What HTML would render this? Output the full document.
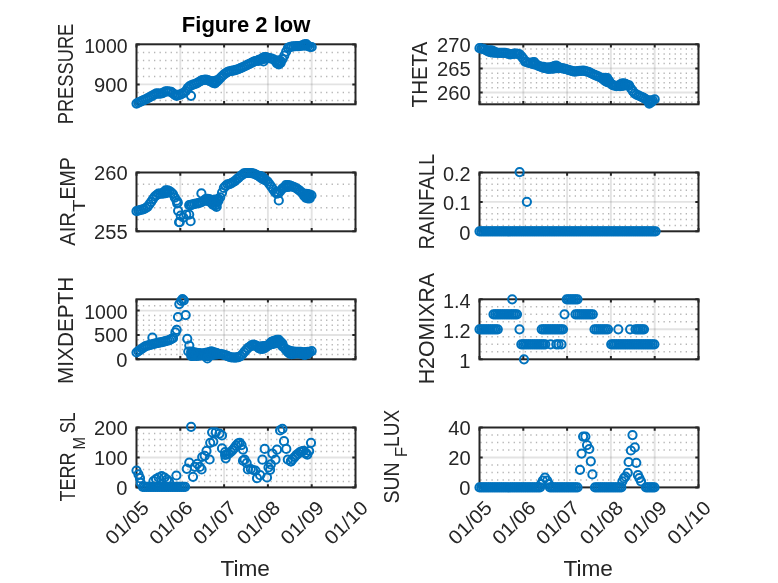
<!DOCTYPE html>
<html><head><meta charset="utf-8"><title>Figure 2 low</title>
<style>html,body{margin:0;padding:0;background:#fff;width:778px;height:583px;overflow:hidden}svg{display:block;will-change:transform}text{font-family:'Liberation Sans', Arial, sans-serif;fill:#262626}</style></head><body>
<svg width="778" height="583" viewBox="0 0 778 583">
<rect width="778" height="583" fill="#fff"/>
<g><line x1="136.5" y1="100.4" x2="355.5" y2="100.4" stroke="#262626" stroke-opacity="0.34" stroke-width="1.5" stroke-dasharray="1.3 4.25" stroke-dashoffset="-0.85"/><line x1="136.5" y1="92.4" x2="355.5" y2="92.4" stroke="#262626" stroke-opacity="0.34" stroke-width="1.5" stroke-dasharray="1.3 4.25" stroke-dashoffset="-0.85"/><line x1="136.5" y1="76.4" x2="355.5" y2="76.4" stroke="#262626" stroke-opacity="0.34" stroke-width="1.5" stroke-dasharray="1.3 4.25" stroke-dashoffset="-0.85"/><line x1="136.5" y1="68.4" x2="355.5" y2="68.4" stroke="#262626" stroke-opacity="0.34" stroke-width="1.5" stroke-dasharray="1.3 4.25" stroke-dashoffset="-0.85"/><line x1="136.5" y1="60.4" x2="355.5" y2="60.4" stroke="#262626" stroke-opacity="0.34" stroke-width="1.5" stroke-dasharray="1.3 4.25" stroke-dashoffset="-0.85"/><line x1="136.5" y1="52.4" x2="355.5" y2="52.4" stroke="#262626" stroke-opacity="0.34" stroke-width="1.5" stroke-dasharray="1.3 4.25" stroke-dashoffset="-0.85"/></g>
<g stroke="#262626" stroke-opacity="0.13" stroke-width="1.9"><line x1="180.3" y1="44.3" x2="180.3" y2="104.3"/><line x1="224.1" y1="44.3" x2="224.1" y2="104.3"/><line x1="267.9" y1="44.3" x2="267.9" y2="104.3"/><line x1="311.7" y1="44.3" x2="311.7" y2="104.3"/><line x1="136.5" y1="84.4" x2="355.5" y2="84.4"/></g>
<path d="M136.5 104.3V101.1M136.5 44.3V47.5M180.3 104.3V101.1M180.3 44.3V47.5M224.1 104.3V101.1M224.1 44.3V47.5M267.9 104.3V101.1M267.9 44.3V47.5M311.7 104.3V101.1M311.7 44.3V47.5M355.5 104.3V101.1M355.5 44.3V47.5M136.5 44.4H139.7M355.5 44.4H352.3M136.5 84.4H139.7M355.5 84.4H352.3" stroke="#262626" stroke-width="2" fill="none"/>
<rect x="136.5" y="44.3" width="219" height="60" fill="none" stroke="#262626" stroke-width="2"/>
<text x="127.6" y="52.7" font-size="19.6" text-anchor="end" textLength="43.34" lengthAdjust="spacingAndGlyphs">1000</text>
<text x="127.6" y="91.9" font-size="19.6" text-anchor="end" textLength="33.63" lengthAdjust="spacingAndGlyphs">900</text>
<g><line x1="479.5" y1="102.14" x2="698.5" y2="102.14" stroke="#262626" stroke-opacity="0.34" stroke-width="1.5" stroke-dasharray="1.3 4.25" stroke-dashoffset="-0.85"/><line x1="479.5" y1="97.32" x2="698.5" y2="97.32" stroke="#262626" stroke-opacity="0.34" stroke-width="1.5" stroke-dasharray="1.3 4.25" stroke-dashoffset="-0.85"/><line x1="479.5" y1="87.68" x2="698.5" y2="87.68" stroke="#262626" stroke-opacity="0.34" stroke-width="1.5" stroke-dasharray="1.3 4.25" stroke-dashoffset="-0.85"/><line x1="479.5" y1="82.86" x2="698.5" y2="82.86" stroke="#262626" stroke-opacity="0.34" stroke-width="1.5" stroke-dasharray="1.3 4.25" stroke-dashoffset="-0.85"/><line x1="479.5" y1="78.04" x2="698.5" y2="78.04" stroke="#262626" stroke-opacity="0.34" stroke-width="1.5" stroke-dasharray="1.3 4.25" stroke-dashoffset="-0.85"/><line x1="479.5" y1="73.22" x2="698.5" y2="73.22" stroke="#262626" stroke-opacity="0.34" stroke-width="1.5" stroke-dasharray="1.3 4.25" stroke-dashoffset="-0.85"/><line x1="479.5" y1="63.58" x2="698.5" y2="63.58" stroke="#262626" stroke-opacity="0.34" stroke-width="1.5" stroke-dasharray="1.3 4.25" stroke-dashoffset="-0.85"/><line x1="479.5" y1="58.76" x2="698.5" y2="58.76" stroke="#262626" stroke-opacity="0.34" stroke-width="1.5" stroke-dasharray="1.3 4.25" stroke-dashoffset="-0.85"/><line x1="479.5" y1="53.94" x2="698.5" y2="53.94" stroke="#262626" stroke-opacity="0.34" stroke-width="1.5" stroke-dasharray="1.3 4.25" stroke-dashoffset="-0.85"/><line x1="479.5" y1="49.12" x2="698.5" y2="49.12" stroke="#262626" stroke-opacity="0.34" stroke-width="1.5" stroke-dasharray="1.3 4.25" stroke-dashoffset="-0.85"/></g>
<g stroke="#262626" stroke-opacity="0.13" stroke-width="1.9"><line x1="523.3" y1="44.3" x2="523.3" y2="104.3"/><line x1="567.1" y1="44.3" x2="567.1" y2="104.3"/><line x1="610.9" y1="44.3" x2="610.9" y2="104.3"/><line x1="654.7" y1="44.3" x2="654.7" y2="104.3"/><line x1="479.5" y1="68.4" x2="698.5" y2="68.4"/><line x1="479.5" y1="92.5" x2="698.5" y2="92.5"/></g>
<path d="M479.5 104.3V101.1M479.5 44.3V47.5M523.3 104.3V101.1M523.3 44.3V47.5M567.1 104.3V101.1M567.1 44.3V47.5M610.9 104.3V101.1M610.9 44.3V47.5M654.7 104.3V101.1M654.7 44.3V47.5M698.5 104.3V101.1M698.5 44.3V47.5M479.5 44.3H482.7M698.5 44.3H695.3M479.5 68.4H482.7M698.5 68.4H695.3M479.5 92.5H482.7M698.5 92.5H695.3" stroke="#262626" stroke-width="2" fill="none"/>
<rect x="479.5" y="44.3" width="219" height="60" fill="none" stroke="#262626" stroke-width="2"/>
<text x="470.6" y="51.8" font-size="19.6" text-anchor="end" textLength="33.63" lengthAdjust="spacingAndGlyphs">270</text>
<text x="470.6" y="75.9" font-size="19.6" text-anchor="end" textLength="33.63" lengthAdjust="spacingAndGlyphs">265</text>
<text x="470.6" y="100" font-size="19.6" text-anchor="end" textLength="33.63" lengthAdjust="spacingAndGlyphs">260</text>
<g><line x1="136.5" y1="219.54" x2="355.5" y2="219.54" stroke="#262626" stroke-opacity="0.34" stroke-width="1.5" stroke-dasharray="1.3 4.25" stroke-dashoffset="-0.85"/><line x1="136.5" y1="207.78" x2="355.5" y2="207.78" stroke="#262626" stroke-opacity="0.34" stroke-width="1.5" stroke-dasharray="1.3 4.25" stroke-dashoffset="-0.85"/><line x1="136.5" y1="196.02" x2="355.5" y2="196.02" stroke="#262626" stroke-opacity="0.34" stroke-width="1.5" stroke-dasharray="1.3 4.25" stroke-dashoffset="-0.85"/><line x1="136.5" y1="184.26" x2="355.5" y2="184.26" stroke="#262626" stroke-opacity="0.34" stroke-width="1.5" stroke-dasharray="1.3 4.25" stroke-dashoffset="-0.85"/></g>
<g stroke="#262626" stroke-opacity="0.13" stroke-width="1.9"><line x1="180.3" y1="172.5" x2="180.3" y2="231.3"/><line x1="224.1" y1="172.5" x2="224.1" y2="231.3"/><line x1="267.9" y1="172.5" x2="267.9" y2="231.3"/><line x1="311.7" y1="172.5" x2="311.7" y2="231.3"/></g>
<path d="M136.5 231.3V228.1M136.5 172.5V175.7M180.3 231.3V228.1M180.3 172.5V175.7M224.1 231.3V228.1M224.1 172.5V175.7M267.9 231.3V228.1M267.9 172.5V175.7M311.7 231.3V228.1M311.7 172.5V175.7M355.5 231.3V228.1M355.5 172.5V175.7M136.5 172.5H139.7M355.5 172.5H352.3M136.5 231.3H139.7M355.5 231.3H352.3" stroke="#262626" stroke-width="2" fill="none"/>
<rect x="136.5" y="172.5" width="219" height="58.8" fill="none" stroke="#262626" stroke-width="2"/>
<text x="127.6" y="180" font-size="19.6" text-anchor="end" textLength="33.63" lengthAdjust="spacingAndGlyphs">260</text>
<text x="127.6" y="238.8" font-size="19.6" text-anchor="end" textLength="33.63" lengthAdjust="spacingAndGlyphs">255</text>
<g><line x1="479.5" y1="225.42" x2="698.5" y2="225.42" stroke="#262626" stroke-opacity="0.34" stroke-width="1.5" stroke-dasharray="1.3 4.25" stroke-dashoffset="-0.85"/><line x1="479.5" y1="219.54" x2="698.5" y2="219.54" stroke="#262626" stroke-opacity="0.34" stroke-width="1.5" stroke-dasharray="1.3 4.25" stroke-dashoffset="-0.85"/><line x1="479.5" y1="213.66" x2="698.5" y2="213.66" stroke="#262626" stroke-opacity="0.34" stroke-width="1.5" stroke-dasharray="1.3 4.25" stroke-dashoffset="-0.85"/><line x1="479.5" y1="207.78" x2="698.5" y2="207.78" stroke="#262626" stroke-opacity="0.34" stroke-width="1.5" stroke-dasharray="1.3 4.25" stroke-dashoffset="-0.85"/><line x1="479.5" y1="196.02" x2="698.5" y2="196.02" stroke="#262626" stroke-opacity="0.34" stroke-width="1.5" stroke-dasharray="1.3 4.25" stroke-dashoffset="-0.85"/><line x1="479.5" y1="190.14" x2="698.5" y2="190.14" stroke="#262626" stroke-opacity="0.34" stroke-width="1.5" stroke-dasharray="1.3 4.25" stroke-dashoffset="-0.85"/><line x1="479.5" y1="184.26" x2="698.5" y2="184.26" stroke="#262626" stroke-opacity="0.34" stroke-width="1.5" stroke-dasharray="1.3 4.25" stroke-dashoffset="-0.85"/><line x1="479.5" y1="178.38" x2="698.5" y2="178.38" stroke="#262626" stroke-opacity="0.34" stroke-width="1.5" stroke-dasharray="1.3 4.25" stroke-dashoffset="-0.85"/></g>
<g stroke="#262626" stroke-opacity="0.13" stroke-width="1.9"><line x1="523.3" y1="172.5" x2="523.3" y2="231.3"/><line x1="567.1" y1="172.5" x2="567.1" y2="231.3"/><line x1="610.9" y1="172.5" x2="610.9" y2="231.3"/><line x1="654.7" y1="172.5" x2="654.7" y2="231.3"/><line x1="479.5" y1="201.9" x2="698.5" y2="201.9"/></g>
<path d="M479.5 231.3V228.1M479.5 172.5V175.7M523.3 231.3V228.1M523.3 172.5V175.7M567.1 231.3V228.1M567.1 172.5V175.7M610.9 231.3V228.1M610.9 172.5V175.7M654.7 231.3V228.1M654.7 172.5V175.7M698.5 231.3V228.1M698.5 172.5V175.7M479.5 172.5H482.7M698.5 172.5H695.3M479.5 201.9H482.7M698.5 201.9H695.3M479.5 231.3H482.7M698.5 231.3H695.3" stroke="#262626" stroke-width="2" fill="none"/>
<rect x="479.5" y="172.5" width="219" height="58.8" fill="none" stroke="#262626" stroke-width="2"/>
<text x="470.6" y="180.7" font-size="19.6" text-anchor="end" textLength="27.68" lengthAdjust="spacingAndGlyphs">0.2</text>
<text x="470.6" y="210.1" font-size="19.6" text-anchor="end" textLength="27.68" lengthAdjust="spacingAndGlyphs">0.1</text>
<text x="470.6" y="239.5" font-size="19.6" text-anchor="end" textLength="11.21" lengthAdjust="spacingAndGlyphs">0</text>
<g><line x1="136.5" y1="354.43" x2="355.5" y2="354.43" stroke="#262626" stroke-opacity="0.34" stroke-width="1.5" stroke-dasharray="1.3 4.25" stroke-dashoffset="-0.85"/><line x1="136.5" y1="349.56" x2="355.5" y2="349.56" stroke="#262626" stroke-opacity="0.34" stroke-width="1.5" stroke-dasharray="1.3 4.25" stroke-dashoffset="-0.85"/><line x1="136.5" y1="344.69" x2="355.5" y2="344.69" stroke="#262626" stroke-opacity="0.34" stroke-width="1.5" stroke-dasharray="1.3 4.25" stroke-dashoffset="-0.85"/><line x1="136.5" y1="339.82" x2="355.5" y2="339.82" stroke="#262626" stroke-opacity="0.34" stroke-width="1.5" stroke-dasharray="1.3 4.25" stroke-dashoffset="-0.85"/><line x1="136.5" y1="330.08" x2="355.5" y2="330.08" stroke="#262626" stroke-opacity="0.34" stroke-width="1.5" stroke-dasharray="1.3 4.25" stroke-dashoffset="-0.85"/><line x1="136.5" y1="325.21" x2="355.5" y2="325.21" stroke="#262626" stroke-opacity="0.34" stroke-width="1.5" stroke-dasharray="1.3 4.25" stroke-dashoffset="-0.85"/><line x1="136.5" y1="320.34" x2="355.5" y2="320.34" stroke="#262626" stroke-opacity="0.34" stroke-width="1.5" stroke-dasharray="1.3 4.25" stroke-dashoffset="-0.85"/><line x1="136.5" y1="315.47" x2="355.5" y2="315.47" stroke="#262626" stroke-opacity="0.34" stroke-width="1.5" stroke-dasharray="1.3 4.25" stroke-dashoffset="-0.85"/><line x1="136.5" y1="305.73" x2="355.5" y2="305.73" stroke="#262626" stroke-opacity="0.34" stroke-width="1.5" stroke-dasharray="1.3 4.25" stroke-dashoffset="-0.85"/></g>
<g stroke="#262626" stroke-opacity="0.13" stroke-width="1.9"><line x1="180.3" y1="299.3" x2="180.3" y2="359.3"/><line x1="224.1" y1="299.3" x2="224.1" y2="359.3"/><line x1="267.9" y1="299.3" x2="267.9" y2="359.3"/><line x1="311.7" y1="299.3" x2="311.7" y2="359.3"/><line x1="136.5" y1="310.6" x2="355.5" y2="310.6"/><line x1="136.5" y1="334.95" x2="355.5" y2="334.95"/></g>
<path d="M136.5 359.3V356.1M136.5 299.3V302.5M180.3 359.3V356.1M180.3 299.3V302.5M224.1 359.3V356.1M224.1 299.3V302.5M267.9 359.3V356.1M267.9 299.3V302.5M311.7 359.3V356.1M311.7 299.3V302.5M355.5 359.3V356.1M355.5 299.3V302.5M136.5 310.6H139.7M355.5 310.6H352.3M136.5 334.95H139.7M355.5 334.95H352.3M136.5 359.3H139.7M355.5 359.3H352.3" stroke="#262626" stroke-width="2" fill="none"/>
<rect x="136.5" y="299.3" width="219" height="60" fill="none" stroke="#262626" stroke-width="2"/>
<text x="127.6" y="318.9" font-size="19.6" text-anchor="end" textLength="43.34" lengthAdjust="spacingAndGlyphs">1000</text>
<text x="127.6" y="342.45" font-size="19.6" text-anchor="end" textLength="33.63" lengthAdjust="spacingAndGlyphs">500</text>
<text x="127.6" y="366.8" font-size="19.6" text-anchor="end" textLength="11.21" lengthAdjust="spacingAndGlyphs">0</text>
<g><line x1="479.5" y1="351.8" x2="698.5" y2="351.8" stroke="#262626" stroke-opacity="0.34" stroke-width="1.5" stroke-dasharray="1.3 4.25" stroke-dashoffset="-0.85"/><line x1="479.5" y1="344.3" x2="698.5" y2="344.3" stroke="#262626" stroke-opacity="0.34" stroke-width="1.5" stroke-dasharray="1.3 4.25" stroke-dashoffset="-0.85"/><line x1="479.5" y1="336.8" x2="698.5" y2="336.8" stroke="#262626" stroke-opacity="0.34" stroke-width="1.5" stroke-dasharray="1.3 4.25" stroke-dashoffset="-0.85"/><line x1="479.5" y1="321.8" x2="698.5" y2="321.8" stroke="#262626" stroke-opacity="0.34" stroke-width="1.5" stroke-dasharray="1.3 4.25" stroke-dashoffset="-0.85"/><line x1="479.5" y1="314.3" x2="698.5" y2="314.3" stroke="#262626" stroke-opacity="0.34" stroke-width="1.5" stroke-dasharray="1.3 4.25" stroke-dashoffset="-0.85"/><line x1="479.5" y1="306.8" x2="698.5" y2="306.8" stroke="#262626" stroke-opacity="0.34" stroke-width="1.5" stroke-dasharray="1.3 4.25" stroke-dashoffset="-0.85"/></g>
<g stroke="#262626" stroke-opacity="0.13" stroke-width="1.9"><line x1="523.3" y1="299.3" x2="523.3" y2="359.3"/><line x1="567.1" y1="299.3" x2="567.1" y2="359.3"/><line x1="610.9" y1="299.3" x2="610.9" y2="359.3"/><line x1="654.7" y1="299.3" x2="654.7" y2="359.3"/><line x1="479.5" y1="329.3" x2="698.5" y2="329.3"/></g>
<path d="M479.5 359.3V356.1M479.5 299.3V302.5M523.3 359.3V356.1M523.3 299.3V302.5M567.1 359.3V356.1M567.1 299.3V302.5M610.9 359.3V356.1M610.9 299.3V302.5M654.7 359.3V356.1M654.7 299.3V302.5M698.5 359.3V356.1M698.5 299.3V302.5M479.5 299.3H482.7M698.5 299.3H695.3M479.5 329.3H482.7M698.5 329.3H695.3M479.5 359.3H482.7M698.5 359.3H695.3" stroke="#262626" stroke-width="2" fill="none"/>
<rect x="479.5" y="299.3" width="219" height="60" fill="none" stroke="#262626" stroke-width="2"/>
<text x="470.6" y="307.8" font-size="19.6" text-anchor="end" textLength="27.68" lengthAdjust="spacingAndGlyphs">1.4</text>
<text x="470.6" y="337.8" font-size="19.6" text-anchor="end" textLength="27.68" lengthAdjust="spacingAndGlyphs">1.2</text>
<text x="470.6" y="367.8" font-size="19.6" text-anchor="end" textLength="11.21" lengthAdjust="spacingAndGlyphs">1</text>
<g><line x1="136.5" y1="481.41" x2="355.5" y2="481.41" stroke="#262626" stroke-opacity="0.34" stroke-width="1.5" stroke-dasharray="1.3 4.25" stroke-dashoffset="-0.85"/><line x1="136.5" y1="475.42" x2="355.5" y2="475.42" stroke="#262626" stroke-opacity="0.34" stroke-width="1.5" stroke-dasharray="1.3 4.25" stroke-dashoffset="-0.85"/><line x1="136.5" y1="469.43" x2="355.5" y2="469.43" stroke="#262626" stroke-opacity="0.34" stroke-width="1.5" stroke-dasharray="1.3 4.25" stroke-dashoffset="-0.85"/><line x1="136.5" y1="463.44" x2="355.5" y2="463.44" stroke="#262626" stroke-opacity="0.34" stroke-width="1.5" stroke-dasharray="1.3 4.25" stroke-dashoffset="-0.85"/><line x1="136.5" y1="451.46" x2="355.5" y2="451.46" stroke="#262626" stroke-opacity="0.34" stroke-width="1.5" stroke-dasharray="1.3 4.25" stroke-dashoffset="-0.85"/><line x1="136.5" y1="445.47" x2="355.5" y2="445.47" stroke="#262626" stroke-opacity="0.34" stroke-width="1.5" stroke-dasharray="1.3 4.25" stroke-dashoffset="-0.85"/><line x1="136.5" y1="439.48" x2="355.5" y2="439.48" stroke="#262626" stroke-opacity="0.34" stroke-width="1.5" stroke-dasharray="1.3 4.25" stroke-dashoffset="-0.85"/><line x1="136.5" y1="433.49" x2="355.5" y2="433.49" stroke="#262626" stroke-opacity="0.34" stroke-width="1.5" stroke-dasharray="1.3 4.25" stroke-dashoffset="-0.85"/></g>
<g stroke="#262626" stroke-opacity="0.13" stroke-width="1.9"><line x1="180.3" y1="427.5" x2="180.3" y2="487.4"/><line x1="224.1" y1="427.5" x2="224.1" y2="487.4"/><line x1="267.9" y1="427.5" x2="267.9" y2="487.4"/><line x1="311.7" y1="427.5" x2="311.7" y2="487.4"/><line x1="136.5" y1="457.45" x2="355.5" y2="457.45"/></g>
<path d="M136.5 487.4V484.2M136.5 427.5V430.7M180.3 487.4V484.2M180.3 427.5V430.7M224.1 487.4V484.2M224.1 427.5V430.7M267.9 487.4V484.2M267.9 427.5V430.7M311.7 487.4V484.2M311.7 427.5V430.7M355.5 487.4V484.2M355.5 427.5V430.7M136.5 427.5H139.7M355.5 427.5H352.3M136.5 457.45H139.7M355.5 457.45H352.3M136.5 487.4H139.7M355.5 487.4H352.3" stroke="#262626" stroke-width="2" fill="none"/>
<rect x="136.5" y="427.5" width="219" height="59.9" fill="none" stroke="#262626" stroke-width="2"/>
<text x="127.6" y="435" font-size="19.6" text-anchor="end" textLength="33.63" lengthAdjust="spacingAndGlyphs">200</text>
<text x="127.6" y="464.95" font-size="19.6" text-anchor="end" textLength="33.63" lengthAdjust="spacingAndGlyphs">100</text>
<text x="127.6" y="494.9" font-size="19.6" text-anchor="end" textLength="11.21" lengthAdjust="spacingAndGlyphs">0</text>
<g><line x1="479.5" y1="479.91" x2="698.5" y2="479.91" stroke="#262626" stroke-opacity="0.34" stroke-width="1.5" stroke-dasharray="1.3 4.25" stroke-dashoffset="-0.85"/><line x1="479.5" y1="472.42" x2="698.5" y2="472.42" stroke="#262626" stroke-opacity="0.34" stroke-width="1.5" stroke-dasharray="1.3 4.25" stroke-dashoffset="-0.85"/><line x1="479.5" y1="464.94" x2="698.5" y2="464.94" stroke="#262626" stroke-opacity="0.34" stroke-width="1.5" stroke-dasharray="1.3 4.25" stroke-dashoffset="-0.85"/><line x1="479.5" y1="449.96" x2="698.5" y2="449.96" stroke="#262626" stroke-opacity="0.34" stroke-width="1.5" stroke-dasharray="1.3 4.25" stroke-dashoffset="-0.85"/><line x1="479.5" y1="442.48" x2="698.5" y2="442.48" stroke="#262626" stroke-opacity="0.34" stroke-width="1.5" stroke-dasharray="1.3 4.25" stroke-dashoffset="-0.85"/><line x1="479.5" y1="434.99" x2="698.5" y2="434.99" stroke="#262626" stroke-opacity="0.34" stroke-width="1.5" stroke-dasharray="1.3 4.25" stroke-dashoffset="-0.85"/></g>
<g stroke="#262626" stroke-opacity="0.13" stroke-width="1.9"><line x1="523.3" y1="427.5" x2="523.3" y2="487.4"/><line x1="567.1" y1="427.5" x2="567.1" y2="487.4"/><line x1="610.9" y1="427.5" x2="610.9" y2="487.4"/><line x1="654.7" y1="427.5" x2="654.7" y2="487.4"/><line x1="479.5" y1="457.45" x2="698.5" y2="457.45"/></g>
<path d="M479.5 487.4V484.2M479.5 427.5V430.7M523.3 487.4V484.2M523.3 427.5V430.7M567.1 487.4V484.2M567.1 427.5V430.7M610.9 487.4V484.2M610.9 427.5V430.7M654.7 487.4V484.2M654.7 427.5V430.7M698.5 487.4V484.2M698.5 427.5V430.7M479.5 427.5H482.7M698.5 427.5H695.3M479.5 457.45H482.7M698.5 457.45H695.3M479.5 487.4H482.7M698.5 487.4H695.3" stroke="#262626" stroke-width="2" fill="none"/>
<rect x="479.5" y="427.5" width="219" height="59.9" fill="none" stroke="#262626" stroke-width="2"/>
<text x="470.6" y="435" font-size="19.6" text-anchor="end" textLength="22.42" lengthAdjust="spacingAndGlyphs">40</text>
<text x="470.6" y="464.95" font-size="19.6" text-anchor="end" textLength="22.42" lengthAdjust="spacingAndGlyphs">20</text>
<text x="470.6" y="494.9" font-size="19.6" text-anchor="end" textLength="11.21" lengthAdjust="spacingAndGlyphs">0</text>
<g fill="none" stroke="#0072BD" stroke-width="2"><circle cx="136.5" cy="103.6" r="4.1"/><circle cx="138.32" cy="102.7" r="4.1"/><circle cx="140.15" cy="101.81" r="4.1"/><circle cx="141.97" cy="100.91" r="4.1"/><circle cx="143.8" cy="100.11" r="4.1"/><circle cx="145.62" cy="99.31" r="4.1"/><circle cx="147.45" cy="98.43" r="4.1"/><circle cx="149.28" cy="97.41" r="4.1"/><circle cx="151.1" cy="96.38" r="4.1"/><circle cx="152.93" cy="95.35" r="4.1"/><circle cx="154.75" cy="94.33" r="4.1"/><circle cx="156.57" cy="93.41" r="4.1"/><circle cx="158.4" cy="93.53" r="4.1"/><circle cx="160.22" cy="93.64" r="4.1"/><circle cx="162.05" cy="93.27" r="4.1"/><circle cx="163.88" cy="92.36" r="4.1"/><circle cx="165.7" cy="91.45" r="4.1"/><circle cx="167.53" cy="91.4" r="4.1"/><circle cx="169.35" cy="91.51" r="4.1"/><circle cx="171.18" cy="91.9" r="4.1"/><circle cx="173" cy="93.39" r="4.1"/><circle cx="174.82" cy="94.87" r="4.1"/><circle cx="176.65" cy="94.8" r="4.1"/><circle cx="176.65" cy="95.81" r="4.1"/><circle cx="178.47" cy="94.96" r="4.1"/><circle cx="180.3" cy="94.62" r="4.1"/><circle cx="182.12" cy="93.7" r="4.1"/><circle cx="183.95" cy="92.75" r="4.1"/><circle cx="185.78" cy="91.02" r="4.1"/><circle cx="187.6" cy="88.23" r="4.1"/><circle cx="189.43" cy="86.31" r="4.1"/><circle cx="191.25" cy="85.45" r="4.1"/><circle cx="193.07" cy="84.67" r="4.1"/><circle cx="194.9" cy="83.99" r="4.1"/><circle cx="196.72" cy="83.3" r="4.1"/><circle cx="198.55" cy="82.23" r="4.1"/><circle cx="200.38" cy="81.09" r="4.1"/><circle cx="202.2" cy="80.15" r="4.1"/><circle cx="204.02" cy="79.92" r="4.1"/><circle cx="205.85" cy="79.69" r="4.1"/><circle cx="207.68" cy="80.07" r="4.1"/><circle cx="209.5" cy="80.87" r="4.1"/><circle cx="211.32" cy="81.67" r="4.1"/><circle cx="213.15" cy="81.12" r="4.1"/><circle cx="213.15" cy="82.86" r="4.1"/><circle cx="214.97" cy="81.25" r="4.1"/><circle cx="214.97" cy="83.34" r="4.1"/><circle cx="216.8" cy="80.46" r="4.1"/><circle cx="216.8" cy="81.74" r="4.1"/><circle cx="218.62" cy="79.87" r="4.1"/><circle cx="220.45" cy="77.93" r="4.1"/><circle cx="222.27" cy="76" r="4.1"/><circle cx="224.1" cy="74.32" r="4.1"/><circle cx="225.93" cy="73.06" r="4.1"/><circle cx="227.75" cy="71.81" r="4.1"/><circle cx="229.57" cy="71.24" r="4.1"/><circle cx="231.4" cy="70.9" r="4.1"/><circle cx="233.22" cy="70.54" r="4.1"/><circle cx="235.05" cy="70.09" r="4.1"/><circle cx="236.88" cy="69.63" r="4.1"/><circle cx="238.7" cy="69.01" r="4.1"/><circle cx="240.52" cy="68.21" r="4.1"/><circle cx="242.35" cy="67.41" r="4.1"/><circle cx="244.18" cy="66.51" r="4.1"/><circle cx="246" cy="65.6" r="4.1"/><circle cx="247.82" cy="64.69" r="4.1"/><circle cx="249.65" cy="63.78" r="4.1"/><circle cx="251.47" cy="62.86" r="4.1"/><circle cx="253.3" cy="61.95" r="4.1"/><circle cx="255.12" cy="61.22" r="4.1"/><circle cx="256.95" cy="60.76" r="4.1"/><circle cx="258.77" cy="59.75" r="4.1"/><circle cx="258.77" cy="60.86" r="4.1"/><circle cx="260.6" cy="59.53" r="4.1"/><circle cx="262.43" cy="58.07" r="4.1"/><circle cx="262.43" cy="59.24" r="4.1"/><circle cx="264.25" cy="57.06" r="4.1"/><circle cx="264.25" cy="58.73" r="4.1"/><circle cx="266.07" cy="57.17" r="4.1"/><circle cx="266.07" cy="58.55" r="4.1"/><circle cx="267.9" cy="57.82" r="4.1"/><circle cx="269.73" cy="58.09" r="4.1"/><circle cx="271.55" cy="58.66" r="4.1"/><circle cx="273.38" cy="59.23" r="4.1"/><circle cx="275.2" cy="60.77" r="4.1"/><circle cx="277.02" cy="61.43" r="4.1"/><circle cx="277.02" cy="63.45" r="4.1"/><circle cx="278.85" cy="60.34" r="4.1"/><circle cx="278.85" cy="62.32" r="4.1"/><circle cx="278.85" cy="64.31" r="4.1"/><circle cx="280.67" cy="61.19" r="4.1"/><circle cx="280.67" cy="62.85" r="4.1"/><circle cx="282.5" cy="59.02" r="4.1"/><circle cx="284.32" cy="55.55" r="4.1"/><circle cx="286.15" cy="51.57" r="4.1"/><circle cx="287.98" cy="47.85" r="4.1"/><circle cx="289.8" cy="47.06" r="4.1"/><circle cx="291.62" cy="46.64" r="4.1"/><circle cx="293.45" cy="46.34" r="4.1"/><circle cx="295.27" cy="46.26" r="4.1"/><circle cx="297.1" cy="46.21" r="4.1"/><circle cx="298.92" cy="46.16" r="4.1"/><circle cx="300.75" cy="45.81" r="4.1"/><circle cx="302.57" cy="45.41" r="4.1"/><circle cx="304.4" cy="44.44" r="4.1"/><circle cx="304.4" cy="45.67" r="4.1"/><circle cx="306.23" cy="44.22" r="4.1"/><circle cx="306.23" cy="45.43" r="4.1"/><circle cx="308.05" cy="45.89" r="4.1"/><circle cx="309.88" cy="46.96" r="4.1"/><circle cx="311.7" cy="47" r="4.1"/><circle cx="191" cy="95.8" r="4.1"/><circle cx="263.5" cy="61.5" r="4.1"/></g>
<g fill="none" stroke="#0072BD" stroke-width="2"><circle cx="479.5" cy="48.2" r="4.1"/><circle cx="481.32" cy="48.56" r="4.1"/><circle cx="483.15" cy="48.91" r="4.1"/><circle cx="484.98" cy="49.69" r="4.1"/><circle cx="486.8" cy="50.6" r="4.1"/><circle cx="488.62" cy="50.53" r="4.1"/><circle cx="488.62" cy="51.59" r="4.1"/><circle cx="490.45" cy="50.47" r="4.1"/><circle cx="490.45" cy="52.13" r="4.1"/><circle cx="492.27" cy="50.64" r="4.1"/><circle cx="492.27" cy="52.52" r="4.1"/><circle cx="494.1" cy="51.48" r="4.1"/><circle cx="494.1" cy="52.72" r="4.1"/><circle cx="495.93" cy="52.63" r="4.1"/><circle cx="497.75" cy="52.85" r="4.1"/><circle cx="499.57" cy="52.85" r="4.1"/><circle cx="501.4" cy="52.85" r="4.1"/><circle cx="503.23" cy="52.91" r="4.1"/><circle cx="505.05" cy="52.97" r="4.1"/><circle cx="506.88" cy="53.29" r="4.1"/><circle cx="508.7" cy="53.83" r="4.1"/><circle cx="510.52" cy="54.38" r="4.1"/><circle cx="512.35" cy="54.02" r="4.1"/><circle cx="514.17" cy="53.62" r="4.1"/><circle cx="516" cy="53.57" r="4.1"/><circle cx="517.83" cy="53.97" r="4.1"/><circle cx="519.65" cy="54.37" r="4.1"/><circle cx="521.48" cy="56.37" r="4.1"/><circle cx="523.3" cy="58.72" r="4.1"/><circle cx="525.12" cy="61.59" r="4.1"/><circle cx="526.95" cy="62.21" r="4.1"/><circle cx="528.77" cy="62.82" r="4.1"/><circle cx="530.6" cy="63.11" r="4.1"/><circle cx="532.42" cy="62.32" r="4.1"/><circle cx="532.42" cy="63.94" r="4.1"/><circle cx="534.25" cy="61.99" r="4.1"/><circle cx="534.25" cy="64.31" r="4.1"/><circle cx="536.08" cy="64.33" r="4.1"/><circle cx="537.9" cy="65.54" r="4.1"/><circle cx="539.73" cy="66.41" r="4.1"/><circle cx="541.55" cy="66.86" r="4.1"/><circle cx="543.38" cy="66.81" r="4.1"/><circle cx="543.38" cy="67.83" r="4.1"/><circle cx="545.2" cy="67.7" r="4.1"/><circle cx="547.02" cy="67.58" r="4.1"/><circle cx="547.02" cy="68.58" r="4.1"/><circle cx="548.85" cy="67.62" r="4.1"/><circle cx="548.85" cy="68.8" r="4.1"/><circle cx="550.67" cy="67.24" r="4.1"/><circle cx="550.67" cy="68.75" r="4.1"/><circle cx="552.5" cy="66.88" r="4.1"/><circle cx="552.5" cy="68.69" r="4.1"/><circle cx="554.33" cy="66.17" r="4.1"/><circle cx="554.33" cy="68.32" r="4.1"/><circle cx="556.15" cy="65.64" r="4.1"/><circle cx="556.15" cy="68.03" r="4.1"/><circle cx="557.98" cy="66.49" r="4.1"/><circle cx="557.98" cy="68.08" r="4.1"/><circle cx="559.8" cy="67.73" r="4.1"/><circle cx="561.62" cy="68.14" r="4.1"/><circle cx="563.45" cy="68.54" r="4.1"/><circle cx="565.27" cy="68.95" r="4.1"/><circle cx="567.1" cy="69.49" r="4.1"/><circle cx="568.92" cy="70.02" r="4.1"/><circle cx="570.75" cy="70.56" r="4.1"/><circle cx="572.58" cy="71.09" r="4.1"/><circle cx="574.4" cy="71.59" r="4.1"/><circle cx="576.23" cy="71.35" r="4.1"/><circle cx="578.05" cy="71.12" r="4.1"/><circle cx="579.88" cy="70.93" r="4.1"/><circle cx="581.7" cy="70.79" r="4.1"/><circle cx="583.52" cy="70.66" r="4.1"/><circle cx="585.35" cy="71.16" r="4.1"/><circle cx="587.17" cy="71.68" r="4.1"/><circle cx="589" cy="72.21" r="4.1"/><circle cx="590.83" cy="73.08" r="4.1"/><circle cx="592.65" cy="74.01" r="4.1"/><circle cx="594.48" cy="74.89" r="4.1"/><circle cx="596.3" cy="75.67" r="4.1"/><circle cx="598.12" cy="76.44" r="4.1"/><circle cx="599.95" cy="77.26" r="4.1"/><circle cx="601.77" cy="78.1" r="4.1"/><circle cx="603.6" cy="78.08" r="4.1"/><circle cx="603.6" cy="79.65" r="4.1"/><circle cx="605.42" cy="77.76" r="4.1"/><circle cx="605.42" cy="79.47" r="4.1"/><circle cx="605.42" cy="81.17" r="4.1"/><circle cx="607.25" cy="78.06" r="4.1"/><circle cx="607.25" cy="80.07" r="4.1"/><circle cx="607.25" cy="82.08" r="4.1"/><circle cx="609.08" cy="80.92" r="4.1"/><circle cx="609.08" cy="82.27" r="4.1"/><circle cx="610.9" cy="83.52" r="4.1"/><circle cx="612.73" cy="85.18" r="4.1"/><circle cx="614.55" cy="85.61" r="4.1"/><circle cx="616.38" cy="86.05" r="4.1"/><circle cx="618.2" cy="85.85" r="4.1"/><circle cx="620.02" cy="84.58" r="4.1"/><circle cx="620.02" cy="86.05" r="4.1"/><circle cx="621.85" cy="83.71" r="4.1"/><circle cx="621.85" cy="85.89" r="4.1"/><circle cx="623.67" cy="83.34" r="4.1"/><circle cx="623.67" cy="85.53" r="4.1"/><circle cx="625.5" cy="83.82" r="4.1"/><circle cx="625.5" cy="85.12" r="4.1"/><circle cx="627.33" cy="84.92" r="4.1"/><circle cx="629.15" cy="85.36" r="4.1"/><circle cx="630.98" cy="88.5" r="4.1"/><circle cx="632.8" cy="91.1" r="4.1"/><circle cx="634.62" cy="93.31" r="4.1"/><circle cx="636.45" cy="94.7" r="4.1"/><circle cx="638.27" cy="95.47" r="4.1"/><circle cx="640.1" cy="96.25" r="4.1"/><circle cx="641.92" cy="97.08" r="4.1"/><circle cx="643.75" cy="97.92" r="4.1"/><circle cx="645.58" cy="99.07" r="4.1"/><circle cx="647.4" cy="100.58" r="4.1"/><circle cx="649.23" cy="100.58" r="4.1"/><circle cx="649.23" cy="102.09" r="4.1"/><circle cx="649.23" cy="103.6" r="4.1"/><circle cx="651.05" cy="100.26" r="4.1"/><circle cx="651.05" cy="102.45" r="4.1"/><circle cx="652.88" cy="100.52" r="4.1"/><circle cx="654.7" cy="99.25" r="4.1"/></g>
<g fill="none" stroke="#0072BD" stroke-width="2"><circle cx="136.5" cy="211.15" r="4.1"/><circle cx="138.32" cy="210.52" r="4.1"/><circle cx="140.15" cy="210" r="4.1"/><circle cx="141.97" cy="209.64" r="4.1"/><circle cx="143.8" cy="209.11" r="4.1"/><circle cx="145.62" cy="208.22" r="4.1"/><circle cx="147.45" cy="206.93" r="4.1"/><circle cx="149.28" cy="204.44" r="4.1"/><circle cx="151.1" cy="201.89" r="4.1"/><circle cx="152.93" cy="199.11" r="4.1"/><circle cx="154.75" cy="196.5" r="4.1"/><circle cx="156.57" cy="195.03" r="4.1"/><circle cx="158.4" cy="193.65" r="4.1"/><circle cx="160.22" cy="193.65" r="4.1"/><circle cx="162.05" cy="193.65" r="4.1"/><circle cx="163.88" cy="192.11" r="4.1"/><circle cx="163.88" cy="193.37" r="4.1"/><circle cx="165.7" cy="190.4" r="4.1"/><circle cx="165.7" cy="193.2" r="4.1"/><circle cx="167.53" cy="190.28" r="4.1"/><circle cx="167.53" cy="192.58" r="4.1"/><circle cx="169.35" cy="191.1" r="4.1"/><circle cx="171.18" cy="192.42" r="4.1"/><circle cx="173" cy="194" r="4.1"/><circle cx="174.82" cy="197.58" r="4.1"/><circle cx="176.65" cy="200.7" r="4.1"/><circle cx="189.2" cy="205.2" r="4.1"/><circle cx="191.02" cy="204.75" r="4.1"/><circle cx="192.85" cy="204.31" r="4.1"/><circle cx="194.67" cy="203.89" r="4.1"/><circle cx="196.5" cy="203.52" r="4.1"/><circle cx="198.32" cy="203.11" r="4.1"/><circle cx="200.15" cy="202.63" r="4.1"/><circle cx="201.97" cy="201.88" r="4.1"/><circle cx="203.8" cy="200.56" r="4.1"/><circle cx="205.62" cy="199.08" r="4.1"/><circle cx="205.62" cy="200.12" r="4.1"/><circle cx="207.45" cy="198.79" r="4.1"/><circle cx="207.45" cy="200.84" r="4.1"/><circle cx="209.27" cy="199.12" r="4.1"/><circle cx="209.27" cy="201.27" r="4.1"/><circle cx="211.1" cy="200.25" r="4.1"/><circle cx="211.1" cy="202.7" r="4.1"/><circle cx="212.92" cy="200.57" r="4.1"/><circle cx="212.92" cy="202.6" r="4.1"/><circle cx="212.92" cy="204.63" r="4.1"/><circle cx="214.75" cy="199.7" r="4.1"/><circle cx="214.75" cy="202.6" r="4.1"/><circle cx="214.75" cy="205.5" r="4.1"/><circle cx="216.57" cy="200.09" r="4.1"/><circle cx="216.57" cy="202.49" r="4.1"/><circle cx="216.57" cy="204.89" r="4.1"/><circle cx="218.4" cy="198.88" r="4.1"/><circle cx="218.4" cy="200.87" r="4.1"/><circle cx="220.22" cy="197.26" r="4.1"/><circle cx="222.05" cy="192.61" r="4.1"/><circle cx="223.88" cy="187.88" r="4.1"/><circle cx="225.7" cy="185.87" r="4.1"/><circle cx="227.52" cy="184.25" r="4.1"/><circle cx="229.35" cy="184.04" r="4.1"/><circle cx="231.17" cy="183.34" r="4.1"/><circle cx="233" cy="182.23" r="4.1"/><circle cx="234.82" cy="181.09" r="4.1"/><circle cx="236.65" cy="179.44" r="4.1"/><circle cx="238.47" cy="177.79" r="4.1"/><circle cx="240.3" cy="176.25" r="4.1"/><circle cx="242.12" cy="174.82" r="4.1"/><circle cx="243.95" cy="173.4" r="4.1"/><circle cx="245.77" cy="173.12" r="4.1"/><circle cx="247.6" cy="173.02" r="4.1"/><circle cx="249.42" cy="173.01" r="4.1"/><circle cx="251.25" cy="173.2" r="4.1"/><circle cx="253.07" cy="173.39" r="4.1"/><circle cx="254.9" cy="174.1" r="4.1"/><circle cx="256.72" cy="175.01" r="4.1"/><circle cx="258.55" cy="175.92" r="4.1"/><circle cx="260.38" cy="176.22" r="4.1"/><circle cx="260.38" cy="177.45" r="4.1"/><circle cx="262.2" cy="176.97" r="4.1"/><circle cx="262.2" cy="178.53" r="4.1"/><circle cx="264.02" cy="178.3" r="4.1"/><circle cx="264.02" cy="179.55" r="4.1"/><circle cx="265.85" cy="180.3" r="4.1"/><circle cx="267.67" cy="181.68" r="4.1"/><circle cx="269.5" cy="184.16" r="4.1"/><circle cx="271.32" cy="186.66" r="4.1"/><circle cx="273.15" cy="189.35" r="4.1"/><circle cx="274.97" cy="192.07" r="4.1"/><circle cx="276.8" cy="192.21" r="4.1"/><circle cx="276.8" cy="193.59" r="4.1"/><circle cx="278.62" cy="193.15" r="4.1"/><circle cx="280.45" cy="190.89" r="4.1"/><circle cx="282.27" cy="188.63" r="4.1"/><circle cx="284.1" cy="187.34" r="4.1"/><circle cx="285.92" cy="185.07" r="4.1"/><circle cx="285.92" cy="187.03" r="4.1"/><circle cx="287.75" cy="185.09" r="4.1"/><circle cx="287.75" cy="186.91" r="4.1"/><circle cx="289.57" cy="185.47" r="4.1"/><circle cx="289.57" cy="186.53" r="4.1"/><circle cx="291.4" cy="186.21" r="4.1"/><circle cx="293.22" cy="186.85" r="4.1"/><circle cx="295.05" cy="187.49" r="4.1"/><circle cx="296.88" cy="188.62" r="4.1"/><circle cx="298.7" cy="189.9" r="4.1"/><circle cx="300.52" cy="191.27" r="4.1"/><circle cx="302.35" cy="193.1" r="4.1"/><circle cx="304.17" cy="193.87" r="4.1"/><circle cx="304.17" cy="195.98" r="4.1"/><circle cx="306" cy="193.97" r="4.1"/><circle cx="306" cy="195.87" r="4.1"/><circle cx="306" cy="197.77" r="4.1"/><circle cx="307.82" cy="194.09" r="4.1"/><circle cx="307.82" cy="196.24" r="4.1"/><circle cx="307.82" cy="198.4" r="4.1"/><circle cx="309.65" cy="194.7" r="4.1"/><circle cx="309.65" cy="196.57" r="4.1"/><circle cx="309.65" cy="198.44" r="4.1"/><circle cx="311.47" cy="195.39" r="4.1"/><circle cx="177.2" cy="203.3" r="4.1"/><circle cx="177.8" cy="202.4" r="4.1"/><circle cx="178.1" cy="210.8" r="4.1"/><circle cx="179.1" cy="222.2" r="4.1"/><circle cx="179.7" cy="222.2" r="4.1"/><circle cx="180.7" cy="215.6" r="4.1"/><circle cx="183.5" cy="217.5" r="4.1"/><circle cx="186.3" cy="214.6" r="4.1"/><circle cx="190.6" cy="221.2" r="4.1"/><circle cx="189.2" cy="214.6" r="4.1"/><circle cx="191" cy="205.2" r="4.1"/><circle cx="201.4" cy="193.4" r="4.1"/><circle cx="278.8" cy="200.5" r="4.1"/><circle cx="216.5" cy="207" r="4.1"/></g>
<g fill="none" stroke="#0072BD" stroke-width="2"><circle cx="479.5" cy="231.3" r="4.1"/><circle cx="481.33" cy="231.3" r="4.1"/><circle cx="483.17" cy="231.3" r="4.1"/><circle cx="485" cy="231.3" r="4.1"/><circle cx="486.84" cy="231.3" r="4.1"/><circle cx="488.67" cy="231.3" r="4.1"/><circle cx="490.51" cy="231.3" r="4.1"/><circle cx="492.34" cy="231.3" r="4.1"/><circle cx="494.18" cy="231.3" r="4.1"/><circle cx="496.01" cy="231.3" r="4.1"/><circle cx="497.84" cy="231.3" r="4.1"/><circle cx="499.68" cy="231.3" r="4.1"/><circle cx="501.51" cy="231.3" r="4.1"/><circle cx="503.35" cy="231.3" r="4.1"/><circle cx="505.18" cy="231.3" r="4.1"/><circle cx="507.02" cy="231.3" r="4.1"/><circle cx="508.85" cy="231.3" r="4.1"/><circle cx="510.68" cy="231.3" r="4.1"/><circle cx="512.52" cy="231.3" r="4.1"/><circle cx="514.35" cy="231.3" r="4.1"/><circle cx="516.19" cy="231.3" r="4.1"/><circle cx="518.02" cy="231.3" r="4.1"/><circle cx="519.86" cy="231.3" r="4.1"/><circle cx="521.69" cy="231.3" r="4.1"/><circle cx="523.52" cy="231.3" r="4.1"/><circle cx="525.36" cy="231.3" r="4.1"/><circle cx="527.19" cy="231.3" r="4.1"/><circle cx="529.03" cy="231.3" r="4.1"/><circle cx="530.86" cy="231.3" r="4.1"/><circle cx="532.7" cy="231.3" r="4.1"/><circle cx="534.53" cy="231.3" r="4.1"/><circle cx="536.37" cy="231.3" r="4.1"/><circle cx="538.2" cy="231.3" r="4.1"/><circle cx="540.03" cy="231.3" r="4.1"/><circle cx="541.87" cy="231.3" r="4.1"/><circle cx="543.7" cy="231.3" r="4.1"/><circle cx="545.54" cy="231.3" r="4.1"/><circle cx="547.37" cy="231.3" r="4.1"/><circle cx="549.21" cy="231.3" r="4.1"/><circle cx="551.04" cy="231.3" r="4.1"/><circle cx="552.88" cy="231.3" r="4.1"/><circle cx="554.71" cy="231.3" r="4.1"/><circle cx="556.54" cy="231.3" r="4.1"/><circle cx="558.38" cy="231.3" r="4.1"/><circle cx="560.21" cy="231.3" r="4.1"/><circle cx="562.05" cy="231.3" r="4.1"/><circle cx="563.88" cy="231.3" r="4.1"/><circle cx="565.72" cy="231.3" r="4.1"/><circle cx="567.55" cy="231.3" r="4.1"/><circle cx="569.38" cy="231.3" r="4.1"/><circle cx="571.22" cy="231.3" r="4.1"/><circle cx="573.05" cy="231.3" r="4.1"/><circle cx="574.89" cy="231.3" r="4.1"/><circle cx="576.72" cy="231.3" r="4.1"/><circle cx="578.56" cy="231.3" r="4.1"/><circle cx="580.39" cy="231.3" r="4.1"/><circle cx="582.23" cy="231.3" r="4.1"/><circle cx="584.06" cy="231.3" r="4.1"/><circle cx="585.89" cy="231.3" r="4.1"/><circle cx="587.73" cy="231.3" r="4.1"/><circle cx="589.56" cy="231.3" r="4.1"/><circle cx="591.4" cy="231.3" r="4.1"/><circle cx="593.23" cy="231.3" r="4.1"/><circle cx="595.07" cy="231.3" r="4.1"/><circle cx="596.9" cy="231.3" r="4.1"/><circle cx="598.73" cy="231.3" r="4.1"/><circle cx="600.57" cy="231.3" r="4.1"/><circle cx="602.4" cy="231.3" r="4.1"/><circle cx="604.24" cy="231.3" r="4.1"/><circle cx="606.07" cy="231.3" r="4.1"/><circle cx="607.91" cy="231.3" r="4.1"/><circle cx="609.74" cy="231.3" r="4.1"/><circle cx="611.58" cy="231.3" r="4.1"/><circle cx="613.41" cy="231.3" r="4.1"/><circle cx="615.24" cy="231.3" r="4.1"/><circle cx="617.08" cy="231.3" r="4.1"/><circle cx="618.91" cy="231.3" r="4.1"/><circle cx="620.75" cy="231.3" r="4.1"/><circle cx="622.58" cy="231.3" r="4.1"/><circle cx="624.42" cy="231.3" r="4.1"/><circle cx="626.25" cy="231.3" r="4.1"/><circle cx="628.08" cy="231.3" r="4.1"/><circle cx="629.92" cy="231.3" r="4.1"/><circle cx="631.75" cy="231.3" r="4.1"/><circle cx="633.59" cy="231.3" r="4.1"/><circle cx="635.42" cy="231.3" r="4.1"/><circle cx="637.26" cy="231.3" r="4.1"/><circle cx="639.09" cy="231.3" r="4.1"/><circle cx="640.93" cy="231.3" r="4.1"/><circle cx="642.76" cy="231.3" r="4.1"/><circle cx="644.59" cy="231.3" r="4.1"/><circle cx="646.43" cy="231.3" r="4.1"/><circle cx="648.26" cy="231.3" r="4.1"/><circle cx="650.1" cy="231.3" r="4.1"/><circle cx="651.93" cy="231.3" r="4.1"/><circle cx="653.77" cy="231.3" r="4.1"/><circle cx="655.6" cy="231.3" r="4.1"/><circle cx="519.6" cy="172.1" r="4.1"/><circle cx="526.9" cy="201.8" r="4.1"/></g>
<g fill="none" stroke="#0072BD" stroke-width="2"><circle cx="136.5" cy="352.5" r="4.1"/><circle cx="138.32" cy="351.17" r="4.1"/><circle cx="140.15" cy="349.9" r="4.1"/><circle cx="141.97" cy="348.63" r="4.1"/><circle cx="143.8" cy="347.36" r="4.1"/><circle cx="145.62" cy="346.19" r="4.1"/><circle cx="147.45" cy="345.68" r="4.1"/><circle cx="149.28" cy="345.17" r="4.1"/><circle cx="151.1" cy="344.66" r="4.1"/><circle cx="152.93" cy="344.15" r="4.1"/><circle cx="154.75" cy="343.7" r="4.1"/><circle cx="156.57" cy="343.25" r="4.1"/><circle cx="158.4" cy="342.85" r="4.1"/><circle cx="160.22" cy="342.46" r="4.1"/><circle cx="162.05" cy="342.07" r="4.1"/><circle cx="163.88" cy="341.63" r="4.1"/><circle cx="165.7" cy="341.17" r="4.1"/><circle cx="167.53" cy="340.72" r="4.1"/><circle cx="169.35" cy="340.07" r="4.1"/><circle cx="171.18" cy="339.13" r="4.1"/><circle cx="173" cy="338.2" r="4.1"/><circle cx="191.2" cy="351.61" r="4.1"/><circle cx="191.2" cy="353.7" r="4.1"/><circle cx="191.2" cy="355.79" r="4.1"/><circle cx="193.02" cy="352.02" r="4.1"/><circle cx="193.02" cy="353.89" r="4.1"/><circle cx="193.02" cy="355.77" r="4.1"/><circle cx="194.85" cy="352.48" r="4.1"/><circle cx="194.85" cy="354.13" r="4.1"/><circle cx="194.85" cy="355.77" r="4.1"/><circle cx="196.67" cy="352.92" r="4.1"/><circle cx="196.67" cy="355.78" r="4.1"/><circle cx="198.5" cy="353.18" r="4.1"/><circle cx="198.5" cy="355.55" r="4.1"/><circle cx="200.32" cy="353.45" r="4.1"/><circle cx="200.32" cy="355.32" r="4.1"/><circle cx="202.15" cy="353.67" r="4.1"/><circle cx="202.15" cy="355.14" r="4.1"/><circle cx="203.97" cy="353.26" r="4.1"/><circle cx="203.97" cy="355.58" r="4.1"/><circle cx="205.8" cy="352.86" r="4.1"/><circle cx="205.8" cy="354.44" r="4.1"/><circle cx="205.8" cy="356.01" r="4.1"/><circle cx="207.62" cy="352.5" r="4.1"/><circle cx="207.62" cy="354.38" r="4.1"/><circle cx="207.62" cy="356.26" r="4.1"/><circle cx="209.45" cy="352.05" r="4.1"/><circle cx="209.45" cy="353.82" r="4.1"/><circle cx="209.45" cy="355.58" r="4.1"/><circle cx="211.27" cy="351.44" r="4.1"/><circle cx="211.27" cy="353.26" r="4.1"/><circle cx="211.27" cy="355.07" r="4.1"/><circle cx="213.1" cy="351.99" r="4.1"/><circle cx="213.1" cy="354.79" r="4.1"/><circle cx="214.92" cy="352.6" r="4.1"/><circle cx="214.92" cy="354.45" r="4.1"/><circle cx="216.75" cy="353.07" r="4.1"/><circle cx="216.75" cy="354.28" r="4.1"/><circle cx="218.57" cy="353.83" r="4.1"/><circle cx="220.4" cy="353.99" r="4.1"/><circle cx="222.22" cy="354.4" r="4.1"/><circle cx="224.05" cy="354.83" r="4.1"/><circle cx="225.88" cy="355.39" r="4.1"/><circle cx="227.7" cy="356.19" r="4.1"/><circle cx="229.52" cy="356.98" r="4.1"/><circle cx="231.35" cy="357.29" r="4.1"/><circle cx="233.17" cy="357.5" r="4.1"/><circle cx="235" cy="357.58" r="4.1"/><circle cx="236.82" cy="357.37" r="4.1"/><circle cx="238.65" cy="357.15" r="4.1"/><circle cx="240.47" cy="356.02" r="4.1"/><circle cx="242.3" cy="354.49" r="4.1"/><circle cx="244.12" cy="352.2" r="4.1"/><circle cx="245.95" cy="350.13" r="4.1"/><circle cx="247.77" cy="348.1" r="4.1"/><circle cx="249.6" cy="346.76" r="4.1"/><circle cx="251.42" cy="345.43" r="4.1"/><circle cx="253.25" cy="344.66" r="4.1"/><circle cx="253.25" cy="345.77" r="4.1"/><circle cx="255.07" cy="345.12" r="4.1"/><circle cx="256.9" cy="346.14" r="4.1"/><circle cx="258.72" cy="346.77" r="4.1"/><circle cx="258.72" cy="348.04" r="4.1"/><circle cx="260.55" cy="346.62" r="4.1"/><circle cx="260.55" cy="348.85" r="4.1"/><circle cx="262.38" cy="346.44" r="4.1"/><circle cx="262.38" cy="348.84" r="4.1"/><circle cx="264.2" cy="346.19" r="4.1"/><circle cx="264.2" cy="348.3" r="4.1"/><circle cx="266.02" cy="346.06" r="4.1"/><circle cx="266.02" cy="347.13" r="4.1"/><circle cx="267.85" cy="345.57" r="4.1"/><circle cx="269.67" cy="343.56" r="4.1"/><circle cx="269.67" cy="344.69" r="4.1"/><circle cx="271.5" cy="341.75" r="4.1"/><circle cx="271.5" cy="344.18" r="4.1"/><circle cx="273.32" cy="341.01" r="4.1"/><circle cx="273.32" cy="343.82" r="4.1"/><circle cx="275.15" cy="340.55" r="4.1"/><circle cx="275.15" cy="343.23" r="4.1"/><circle cx="276.97" cy="339.86" r="4.1"/><circle cx="276.97" cy="341.45" r="4.1"/><circle cx="276.97" cy="343.03" r="4.1"/><circle cx="278.8" cy="339.91" r="4.1"/><circle cx="278.8" cy="342.59" r="4.1"/><circle cx="280.62" cy="341.9" r="4.1"/><circle cx="280.62" cy="344.25" r="4.1"/><circle cx="282.45" cy="343.55" r="4.1"/><circle cx="282.45" cy="346.3" r="4.1"/><circle cx="284.27" cy="347.54" r="4.1"/><circle cx="286.1" cy="350.16" r="4.1"/><circle cx="287.92" cy="350.22" r="4.1"/><circle cx="287.92" cy="352.26" r="4.1"/><circle cx="289.75" cy="350.78" r="4.1"/><circle cx="289.75" cy="353.7" r="4.1"/><circle cx="291.57" cy="351.28" r="4.1"/><circle cx="291.57" cy="354.04" r="4.1"/><circle cx="293.4" cy="351.58" r="4.1"/><circle cx="293.4" cy="353.78" r="4.1"/><circle cx="295.22" cy="351.89" r="4.1"/><circle cx="295.22" cy="353.5" r="4.1"/><circle cx="297.05" cy="351.82" r="4.1"/><circle cx="297.05" cy="353.5" r="4.1"/><circle cx="298.88" cy="351.75" r="4.1"/><circle cx="298.88" cy="353.49" r="4.1"/><circle cx="300.7" cy="351.86" r="4.1"/><circle cx="300.7" cy="353.65" r="4.1"/><circle cx="302.52" cy="352.24" r="4.1"/><circle cx="302.52" cy="354.22" r="4.1"/><circle cx="304.35" cy="352.44" r="4.1"/><circle cx="304.35" cy="354.98" r="4.1"/><circle cx="306.17" cy="352.13" r="4.1"/><circle cx="306.17" cy="354.47" r="4.1"/><circle cx="308" cy="351.78" r="4.1"/><circle cx="308" cy="353.59" r="4.1"/><circle cx="309.82" cy="351.98" r="4.1"/><circle cx="311.65" cy="351.03" r="4.1"/><circle cx="175.4" cy="332.4" r="4.1"/><circle cx="176.7" cy="329.8" r="4.1"/><circle cx="178" cy="317" r="4.1"/><circle cx="179.3" cy="304.1" r="4.1"/><circle cx="181.2" cy="300.9" r="4.1"/><circle cx="182.5" cy="299" r="4.1"/><circle cx="183.8" cy="300.3" r="4.1"/><circle cx="185.7" cy="315.1" r="4.1"/><circle cx="187.3" cy="338.8" r="4.1"/><circle cx="189.3" cy="345.5" r="4.1"/><circle cx="188.3" cy="351.5" r="4.1"/><circle cx="193.4" cy="353" r="4.1"/><circle cx="192.1" cy="355.6" r="4.1"/><circle cx="152.4" cy="337.7" r="4.1"/><circle cx="207.4" cy="358.4" r="4.1"/></g>
<g fill="none" stroke="#0072BD" stroke-width="2"><circle cx="512.2" cy="299.3" r="4.1"/><circle cx="566.7" cy="299.3" r="4.1"/><circle cx="568.5" cy="299.3" r="4.1"/><circle cx="570.3" cy="299.3" r="4.1"/><circle cx="572.1" cy="299.3" r="4.1"/><circle cx="573.9" cy="299.3" r="4.1"/><circle cx="575.7" cy="299.3" r="4.1"/><circle cx="577.5" cy="299.3" r="4.1"/><circle cx="493.5" cy="314.3" r="4.1"/><circle cx="495.31" cy="314.3" r="4.1"/><circle cx="497.12" cy="314.3" r="4.1"/><circle cx="498.92" cy="314.3" r="4.1"/><circle cx="500.73" cy="314.3" r="4.1"/><circle cx="502.54" cy="314.3" r="4.1"/><circle cx="504.35" cy="314.3" r="4.1"/><circle cx="506.15" cy="314.3" r="4.1"/><circle cx="507.96" cy="314.3" r="4.1"/><circle cx="509.77" cy="314.3" r="4.1"/><circle cx="511.58" cy="314.3" r="4.1"/><circle cx="513.38" cy="314.3" r="4.1"/><circle cx="515.19" cy="314.3" r="4.1"/><circle cx="517" cy="314.3" r="4.1"/><circle cx="564.5" cy="314.3" r="4.1"/><circle cx="575.5" cy="314.3" r="4.1"/><circle cx="577.42" cy="314.3" r="4.1"/><circle cx="579.34" cy="314.3" r="4.1"/><circle cx="581.27" cy="314.3" r="4.1"/><circle cx="583.19" cy="314.3" r="4.1"/><circle cx="585.11" cy="314.3" r="4.1"/><circle cx="587.03" cy="314.3" r="4.1"/><circle cx="588.96" cy="314.3" r="4.1"/><circle cx="590.88" cy="314.3" r="4.1"/><circle cx="592.8" cy="314.3" r="4.1"/><circle cx="479.5" cy="329.3" r="4.1"/><circle cx="481.33" cy="329.3" r="4.1"/><circle cx="483.16" cy="329.3" r="4.1"/><circle cx="484.99" cy="329.3" r="4.1"/><circle cx="486.82" cy="329.3" r="4.1"/><circle cx="488.65" cy="329.3" r="4.1"/><circle cx="490.48" cy="329.3" r="4.1"/><circle cx="492.31" cy="329.3" r="4.1"/><circle cx="494.14" cy="329.3" r="4.1"/><circle cx="495.97" cy="329.3" r="4.1"/><circle cx="497.8" cy="329.3" r="4.1"/><circle cx="519.5" cy="329.3" r="4.1"/><circle cx="541.7" cy="329.3" r="4.1"/><circle cx="543.48" cy="329.3" r="4.1"/><circle cx="545.25" cy="329.3" r="4.1"/><circle cx="547.03" cy="329.3" r="4.1"/><circle cx="548.8" cy="329.3" r="4.1"/><circle cx="550.58" cy="329.3" r="4.1"/><circle cx="552.35" cy="329.3" r="4.1"/><circle cx="554.12" cy="329.3" r="4.1"/><circle cx="555.9" cy="329.3" r="4.1"/><circle cx="557.67" cy="329.3" r="4.1"/><circle cx="559.45" cy="329.3" r="4.1"/><circle cx="561.23" cy="329.3" r="4.1"/><circle cx="563" cy="329.3" r="4.1"/><circle cx="594.5" cy="329.3" r="4.1"/><circle cx="596.43" cy="329.3" r="4.1"/><circle cx="598.36" cy="329.3" r="4.1"/><circle cx="600.29" cy="329.3" r="4.1"/><circle cx="602.21" cy="329.3" r="4.1"/><circle cx="604.14" cy="329.3" r="4.1"/><circle cx="606.07" cy="329.3" r="4.1"/><circle cx="608" cy="329.3" r="4.1"/><circle cx="618.3" cy="329.3" r="4.1"/><circle cx="630.1" cy="329.3" r="4.1"/><circle cx="635.5" cy="329.3" r="4.1"/><circle cx="637.2" cy="329.3" r="4.1"/><circle cx="638.9" cy="329.3" r="4.1"/><circle cx="640.6" cy="329.3" r="4.1"/><circle cx="642.3" cy="329.3" r="4.1"/><circle cx="644" cy="329.3" r="4.1"/><circle cx="521.3" cy="344.3" r="4.1"/><circle cx="523.15" cy="344.3" r="4.1"/><circle cx="525" cy="344.3" r="4.1"/><circle cx="526.85" cy="344.3" r="4.1"/><circle cx="528.7" cy="344.3" r="4.1"/><circle cx="530.55" cy="344.3" r="4.1"/><circle cx="532.4" cy="344.3" r="4.1"/><circle cx="534.25" cy="344.3" r="4.1"/><circle cx="536.1" cy="344.3" r="4.1"/><circle cx="537.95" cy="344.3" r="4.1"/><circle cx="539.8" cy="344.3" r="4.1"/><circle cx="541.65" cy="344.3" r="4.1"/><circle cx="543.5" cy="344.3" r="4.1"/><circle cx="545.3" cy="344.3" r="4.1"/><circle cx="550.6" cy="344.3" r="4.1"/><circle cx="556.3" cy="344.3" r="4.1"/><circle cx="558.5" cy="344.3" r="4.1"/><circle cx="561.5" cy="344.3" r="4.1"/><circle cx="611.2" cy="344.3" r="4.1"/><circle cx="613" cy="344.3" r="4.1"/><circle cx="614.8" cy="344.3" r="4.1"/><circle cx="616.6" cy="344.3" r="4.1"/><circle cx="618.4" cy="344.3" r="4.1"/><circle cx="620.2" cy="344.3" r="4.1"/><circle cx="622" cy="344.3" r="4.1"/><circle cx="623.8" cy="344.3" r="4.1"/><circle cx="625.6" cy="344.3" r="4.1"/><circle cx="627.4" cy="344.3" r="4.1"/><circle cx="629.2" cy="344.3" r="4.1"/><circle cx="631" cy="344.3" r="4.1"/><circle cx="632.8" cy="344.3" r="4.1"/><circle cx="634.6" cy="344.3" r="4.1"/><circle cx="636.4" cy="344.3" r="4.1"/><circle cx="638.2" cy="344.3" r="4.1"/><circle cx="640" cy="344.3" r="4.1"/><circle cx="641.8" cy="344.3" r="4.1"/><circle cx="643.6" cy="344.3" r="4.1"/><circle cx="645.4" cy="344.3" r="4.1"/><circle cx="647.2" cy="344.3" r="4.1"/><circle cx="649" cy="344.3" r="4.1"/><circle cx="650.8" cy="344.3" r="4.1"/><circle cx="652.6" cy="344.3" r="4.1"/><circle cx="654.4" cy="344.3" r="4.1"/><circle cx="524" cy="359.3" r="4.1"/></g>
<g fill="none" stroke="#0072BD" stroke-width="2"><circle cx="136.5" cy="470.5" r="4.1"/><circle cx="138.5" cy="474.4" r="4.1"/><circle cx="140" cy="478.2" r="4.1"/><circle cx="140.8" cy="482.9" r="4.1"/><circle cx="142.8" cy="486.8" r="4.1"/><circle cx="144.64" cy="486.8" r="4.1"/><circle cx="146.48" cy="486.8" r="4.1"/><circle cx="148.32" cy="486.8" r="4.1"/><circle cx="150.16" cy="486.8" r="4.1"/><circle cx="152" cy="486.8" r="4.1"/><circle cx="153.83" cy="486.8" r="4.1"/><circle cx="155.67" cy="486.8" r="4.1"/><circle cx="157.51" cy="486.8" r="4.1"/><circle cx="159.35" cy="486.8" r="4.1"/><circle cx="161.19" cy="486.8" r="4.1"/><circle cx="163.03" cy="486.8" r="4.1"/><circle cx="164.87" cy="486.8" r="4.1"/><circle cx="166.71" cy="486.8" r="4.1"/><circle cx="168.55" cy="486.8" r="4.1"/><circle cx="170.39" cy="486.8" r="4.1"/><circle cx="172.23" cy="486.8" r="4.1"/><circle cx="174.07" cy="486.8" r="4.1"/><circle cx="175.9" cy="486.8" r="4.1"/><circle cx="177.74" cy="486.8" r="4.1"/><circle cx="179.58" cy="486.8" r="4.1"/><circle cx="181.42" cy="486.8" r="4.1"/><circle cx="183.26" cy="486.8" r="4.1"/><circle cx="185.1" cy="486.8" r="4.1"/><circle cx="153.5" cy="481" r="4.1"/><circle cx="156" cy="479" r="4.1"/><circle cx="158.5" cy="477.5" r="4.1"/><circle cx="161.7" cy="476" r="4.1"/><circle cx="164.5" cy="477.5" r="4.1"/><circle cx="167" cy="479.5" r="4.1"/><circle cx="169" cy="481.5" r="4.1"/><circle cx="176.4" cy="475.5" r="4.1"/><circle cx="191.1" cy="426.8" r="4.1"/><circle cx="186.8" cy="468.8" r="4.1"/><circle cx="189.3" cy="462.6" r="4.1"/><circle cx="193" cy="476.8" r="4.1"/><circle cx="194.8" cy="466.9" r="4.1"/><circle cx="197.3" cy="463.8" r="4.1"/><circle cx="199.8" cy="466.9" r="4.1"/><circle cx="201.6" cy="469.4" r="4.1"/><circle cx="202.2" cy="457" r="4.1"/><circle cx="204.7" cy="455.8" r="4.1"/><circle cx="206.5" cy="450.9" r="4.1"/><circle cx="209.6" cy="459.5" r="4.1"/><circle cx="210.2" cy="442.8" r="4.1"/><circle cx="213.3" cy="441.6" r="4.1"/><circle cx="212.1" cy="432.3" r="4.1"/><circle cx="215.8" cy="432.3" r="4.1"/><circle cx="219.5" cy="433.6" r="4.1"/><circle cx="222" cy="435.4" r="4.1"/><circle cx="222" cy="448.4" r="4.1"/><circle cx="225.1" cy="452.1" r="4.1"/><circle cx="225.7" cy="458.3" r="4.1"/><circle cx="225.1" cy="455" r="4.1"/><circle cx="226.92" cy="454.28" r="4.1"/><circle cx="228.75" cy="453.56" r="4.1"/><circle cx="230.57" cy="452.12" r="4.1"/><circle cx="232.4" cy="450.3" r="4.1"/><circle cx="234.22" cy="448.11" r="4.1"/><circle cx="236.05" cy="445.69" r="4.1"/><circle cx="237.88" cy="443.62" r="4.1"/><circle cx="239.7" cy="442.73" r="4.1"/><circle cx="241.53" cy="445.1" r="4.1"/><circle cx="243" cy="449.6" r="4.1"/><circle cx="243" cy="460.7" r="4.1"/><circle cx="246.7" cy="463.2" r="4.1"/><circle cx="247.9" cy="469.4" r="4.1"/><circle cx="244.6" cy="459.7" r="4.1"/><circle cx="250.8" cy="469" r="4.1"/><circle cx="253" cy="470" r="4.1"/><circle cx="255.4" cy="470.5" r="4.1"/><circle cx="257" cy="478.2" r="4.1"/><circle cx="260.1" cy="475.2" r="4.1"/><circle cx="262.4" cy="459.7" r="4.1"/><circle cx="264.7" cy="448.9" r="4.1"/><circle cx="267" cy="477.5" r="4.1"/><circle cx="268.5" cy="467.4" r="4.1"/><circle cx="270.1" cy="469.8" r="4.1"/><circle cx="270.8" cy="464.4" r="4.1"/><circle cx="272.4" cy="453.6" r="4.1"/><circle cx="275.5" cy="459.7" r="4.1"/><circle cx="277" cy="449.7" r="4.1"/><circle cx="280.1" cy="430.4" r="4.1"/><circle cx="282.4" cy="428.9" r="4.1"/><circle cx="284" cy="441.2" r="4.1"/><circle cx="286.3" cy="448.9" r="4.1"/><circle cx="287.8" cy="459.7" r="4.1"/><circle cx="290.9" cy="461.3" r="4.1"/><circle cx="290.9" cy="461.3" r="4.1"/><circle cx="292.72" cy="459.16" r="4.1"/><circle cx="294.55" cy="457.02" r="4.1"/><circle cx="296.38" cy="455.17" r="4.1"/><circle cx="298.2" cy="453.66" r="4.1"/><circle cx="300.02" cy="452.15" r="4.1"/><circle cx="301.85" cy="451.46" r="4.1"/><circle cx="303.67" cy="450.87" r="4.1"/><circle cx="305.5" cy="453.35" r="4.1"/><circle cx="307.32" cy="454.58" r="4.1"/><circle cx="309.15" cy="450.99" r="4.1"/><circle cx="311" cy="442.8" r="4.1"/><circle cx="306" cy="453" r="4.1"/></g>
<g fill="none" stroke="#0072BD" stroke-width="2"><circle cx="479.5" cy="487.4" r="4.1"/><circle cx="481.33" cy="487.4" r="4.1"/><circle cx="483.17" cy="487.4" r="4.1"/><circle cx="485" cy="487.4" r="4.1"/><circle cx="486.83" cy="487.4" r="4.1"/><circle cx="488.67" cy="487.4" r="4.1"/><circle cx="490.5" cy="487.4" r="4.1"/><circle cx="492.33" cy="487.4" r="4.1"/><circle cx="494.17" cy="487.4" r="4.1"/><circle cx="496" cy="487.4" r="4.1"/><circle cx="497.83" cy="487.4" r="4.1"/><circle cx="499.67" cy="487.4" r="4.1"/><circle cx="501.5" cy="487.4" r="4.1"/><circle cx="503.33" cy="487.4" r="4.1"/><circle cx="505.17" cy="487.4" r="4.1"/><circle cx="507" cy="487.4" r="4.1"/><circle cx="508.83" cy="487.4" r="4.1"/><circle cx="510.67" cy="487.4" r="4.1"/><circle cx="512.5" cy="487.4" r="4.1"/><circle cx="514.33" cy="487.4" r="4.1"/><circle cx="516.17" cy="487.4" r="4.1"/><circle cx="518" cy="487.4" r="4.1"/><circle cx="519.83" cy="487.4" r="4.1"/><circle cx="521.67" cy="487.4" r="4.1"/><circle cx="523.5" cy="487.4" r="4.1"/><circle cx="525.33" cy="487.4" r="4.1"/><circle cx="527.17" cy="487.4" r="4.1"/><circle cx="529" cy="487.4" r="4.1"/><circle cx="530.83" cy="487.4" r="4.1"/><circle cx="532.67" cy="487.4" r="4.1"/><circle cx="534.5" cy="487.4" r="4.1"/><circle cx="536.33" cy="487.4" r="4.1"/><circle cx="538.17" cy="487.4" r="4.1"/><circle cx="540" cy="487.4" r="4.1"/><circle cx="550" cy="487.4" r="4.1"/><circle cx="551.83" cy="487.4" r="4.1"/><circle cx="553.67" cy="487.4" r="4.1"/><circle cx="555.5" cy="487.4" r="4.1"/><circle cx="557.33" cy="487.4" r="4.1"/><circle cx="559.17" cy="487.4" r="4.1"/><circle cx="561" cy="487.4" r="4.1"/><circle cx="562.83" cy="487.4" r="4.1"/><circle cx="564.67" cy="487.4" r="4.1"/><circle cx="566.5" cy="487.4" r="4.1"/><circle cx="568.33" cy="487.4" r="4.1"/><circle cx="570.17" cy="487.4" r="4.1"/><circle cx="572" cy="487.4" r="4.1"/><circle cx="573.83" cy="487.4" r="4.1"/><circle cx="575.67" cy="487.4" r="4.1"/><circle cx="577.5" cy="487.4" r="4.1"/><circle cx="541" cy="484" r="4.1"/><circle cx="542.8" cy="480.5" r="4.1"/><circle cx="545" cy="477.5" r="4.1"/><circle cx="547.2" cy="480.5" r="4.1"/><circle cx="549" cy="484" r="4.1"/><circle cx="580" cy="469.8" r="4.1"/><circle cx="581.6" cy="453.6" r="4.1"/><circle cx="583.1" cy="436.6" r="4.1"/><circle cx="585.4" cy="436.6" r="4.1"/><circle cx="587" cy="445.1" r="4.1"/><circle cx="589.3" cy="449" r="4.1"/><circle cx="590.8" cy="461.3" r="4.1"/><circle cx="592.4" cy="474.4" r="4.1"/><circle cx="595" cy="487.4" r="4.1"/><circle cx="596.88" cy="487.4" r="4.1"/><circle cx="598.76" cy="487.4" r="4.1"/><circle cx="600.64" cy="487.4" r="4.1"/><circle cx="602.51" cy="487.4" r="4.1"/><circle cx="604.39" cy="487.4" r="4.1"/><circle cx="606.27" cy="487.4" r="4.1"/><circle cx="608.15" cy="487.4" r="4.1"/><circle cx="610.03" cy="487.4" r="4.1"/><circle cx="611.91" cy="487.4" r="4.1"/><circle cx="613.79" cy="487.4" r="4.1"/><circle cx="615.66" cy="487.4" r="4.1"/><circle cx="617.54" cy="487.4" r="4.1"/><circle cx="619.42" cy="487.4" r="4.1"/><circle cx="621.3" cy="487.4" r="4.1"/><circle cx="622.4" cy="481.3" r="4.1"/><circle cx="624" cy="478.2" r="4.1"/><circle cx="625.5" cy="476.7" r="4.1"/><circle cx="627.8" cy="472.8" r="4.1"/><circle cx="628.6" cy="462" r="4.1"/><circle cx="630.9" cy="450.5" r="4.1"/><circle cx="632.5" cy="435.1" r="4.1"/><circle cx="634.8" cy="447.4" r="4.1"/><circle cx="636.3" cy="462.8" r="4.1"/><circle cx="637.9" cy="475.2" r="4.1"/><circle cx="639.4" cy="478.2" r="4.1"/><circle cx="641" cy="481.3" r="4.1"/><circle cx="646" cy="487.4" r="4.1"/><circle cx="647.7" cy="487.4" r="4.1"/><circle cx="649.4" cy="487.4" r="4.1"/><circle cx="651.1" cy="487.4" r="4.1"/><circle cx="652.8" cy="487.4" r="4.1"/><circle cx="654.5" cy="487.4" r="4.1"/></g>
<text transform="translate(72.9 124.3) rotate(-90)" font-size="21.6" textLength="100.6" lengthAdjust="spacingAndGlyphs">PRESSURE</text>
<text transform="translate(426.8 107.4) rotate(-90)" font-size="21.6" textLength="65.7" lengthAdjust="spacingAndGlyphs">THETA</text>
<text transform="translate(434 249.4) rotate(-90)" font-size="21.6" textLength="95.6" lengthAdjust="spacingAndGlyphs">RAINFALL</text>
<text transform="translate(72.9 383.9) rotate(-90)" font-size="21.6" textLength="107.1" lengthAdjust="spacingAndGlyphs">MIXDEPTH</text>
<text transform="translate(434 384.3) rotate(-90)" font-size="21.6" textLength="111.3" lengthAdjust="spacingAndGlyphs">H2OMIXRA</text>
<text transform="translate(74.9 245.8) rotate(-90)" font-size="21.6" textLength="33.8" lengthAdjust="spacingAndGlyphs">AIR</text>
<text transform="translate(85.2 212) rotate(-90)" font-size="16.85" textLength="12.5" lengthAdjust="spacingAndGlyphs">T</text>
<text transform="translate(74.9 199.5) rotate(-90)" font-size="21.6" textLength="42.4" lengthAdjust="spacingAndGlyphs">EMP</text>
<text transform="translate(74.9 501.6) rotate(-90)" font-size="21.6" textLength="49.2" lengthAdjust="spacingAndGlyphs">TERR</text>
<text transform="translate(85.2 449.4) rotate(-90)" font-size="16.85" textLength="12.5" lengthAdjust="spacingAndGlyphs">M</text>
<text transform="translate(74.9 433.3) rotate(-90)" font-size="21.6" textLength="20.8" lengthAdjust="spacingAndGlyphs">SL</text>
<text transform="translate(398.8 503.6) rotate(-90)" font-size="21.6" textLength="41.3" lengthAdjust="spacingAndGlyphs">SUN</text>
<text transform="translate(407.4 457.3) rotate(-90)" font-size="16.85" textLength="10.4" lengthAdjust="spacingAndGlyphs">F</text>
<text transform="translate(398.8 447) rotate(-90)" font-size="21.6" textLength="37.2" lengthAdjust="spacingAndGlyphs">LUX</text>
<text transform="translate(150.1 509.1) rotate(-45)" font-size="19.6" text-anchor="end" textLength="52" lengthAdjust="spacingAndGlyphs">01/05</text>
<text transform="translate(193.9 509.1) rotate(-45)" font-size="19.6" text-anchor="end" textLength="52" lengthAdjust="spacingAndGlyphs">01/06</text>
<text transform="translate(237.7 509.1) rotate(-45)" font-size="19.6" text-anchor="end" textLength="52" lengthAdjust="spacingAndGlyphs">01/07</text>
<text transform="translate(281.5 509.1) rotate(-45)" font-size="19.6" text-anchor="end" textLength="52" lengthAdjust="spacingAndGlyphs">01/08</text>
<text transform="translate(325.3 509.1) rotate(-45)" font-size="19.6" text-anchor="end" textLength="52" lengthAdjust="spacingAndGlyphs">01/09</text>
<text transform="translate(369.1 509.1) rotate(-45)" font-size="19.6" text-anchor="end" textLength="52" lengthAdjust="spacingAndGlyphs">01/10</text>
<text x="245.2" y="575.6" font-size="21.6" text-anchor="middle" textLength="49.5" lengthAdjust="spacingAndGlyphs">Time</text>
<text transform="translate(493.1 509.1) rotate(-45)" font-size="19.6" text-anchor="end" textLength="52" lengthAdjust="spacingAndGlyphs">01/05</text>
<text transform="translate(536.9 509.1) rotate(-45)" font-size="19.6" text-anchor="end" textLength="52" lengthAdjust="spacingAndGlyphs">01/06</text>
<text transform="translate(580.7 509.1) rotate(-45)" font-size="19.6" text-anchor="end" textLength="52" lengthAdjust="spacingAndGlyphs">01/07</text>
<text transform="translate(624.5 509.1) rotate(-45)" font-size="19.6" text-anchor="end" textLength="52" lengthAdjust="spacingAndGlyphs">01/08</text>
<text transform="translate(668.3 509.1) rotate(-45)" font-size="19.6" text-anchor="end" textLength="52" lengthAdjust="spacingAndGlyphs">01/09</text>
<text transform="translate(712.1 509.1) rotate(-45)" font-size="19.6" text-anchor="end" textLength="52" lengthAdjust="spacingAndGlyphs">01/10</text>
<text x="588.2" y="575.6" font-size="21.6" text-anchor="middle" textLength="49.5" lengthAdjust="spacingAndGlyphs">Time</text>
<text x="246.1" y="31.6" font-size="21.6" font-weight="bold" text-anchor="middle" style="fill:#000" textLength="128.5" lengthAdjust="spacingAndGlyphs">Figure 2 low</text>
</svg></body></html>
